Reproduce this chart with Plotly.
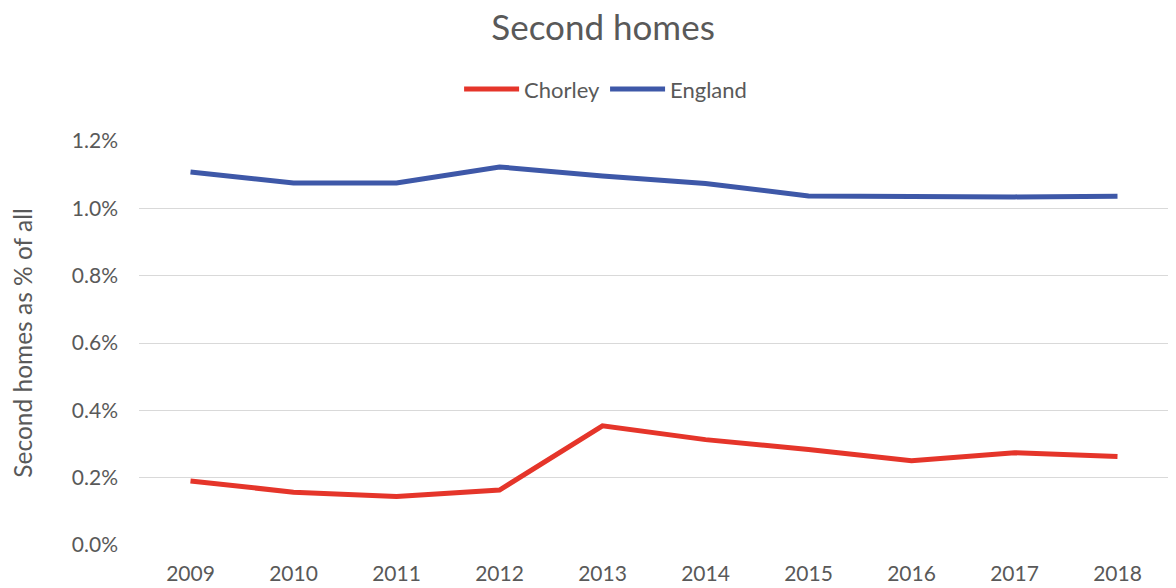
import plotly.graph_objects as go

years = ["2009", "2010", "2011", "2012", "2013", "2014", "2015", "2016", "2017", "2018"]
chorley = [0.190, 0.157, 0.144, 0.163, 0.354, 0.313, 0.284, 0.250, 0.274, 0.263]
england = [1.108, 1.075, 1.075, 1.123, 1.096, 1.074, 1.037, 1.034, 1.034, 1.036]

chorley = [v / 100 for v in chorley]
england = [v / 100 for v in england]

font = "Lato, Calibri, sans-serif"
grey = "#595959"

fig = go.Figure()
fig.add_trace(go.Scatter(x=years, y=chorley, name="Chorley", mode="lines",
                         line=dict(color="#E5352A", width=5)))
fig.add_trace(go.Scatter(x=years, y=england, name="England", mode="lines",
                         line=dict(color="#3E58A8", width=5)))

fig.update_layout(
    width=1176, height=588,
    paper_bgcolor="white", plot_bgcolor="white",
    margin=dict(l=131, r=15, t=133, b=51, autoexpand=False),
    font=dict(family=font, color=grey, size=20),
    title=dict(text="Second homes", x=0.506, xanchor="center",
               y=0.966, yanchor="middle", font=dict(size=35, color=grey)),
    legend=dict(orientation="h", x=0.453, xanchor="center",
                yref="container", y=0.862, yanchor="middle",
                font=dict(size=22, color=grey), itemwidth=55),
)
fig.update_xaxes(type="category", range=[-0.5, 9.5], automargin=False,
                 showgrid=False, showline=False, ticks="", ticklabelstandoff=14,
                 tickfont=dict(size=21, color=grey))
fig.update_yaxes(range=[0, 0.012], dtick=0.002, tickformat=".1%", automargin=False,
                 showgrid=True, gridcolor="#D9D9D9", gridwidth=1.3,
                 zeroline=False, showline=False, ticks="", ticklabelstandoff=20,
                 tickfont=dict(size=21, color=grey),
                 title=dict(text="Second homes as % of all",
                            font=dict(size=24.5, color=grey), standoff=38))

fig.write_html("out.html")
